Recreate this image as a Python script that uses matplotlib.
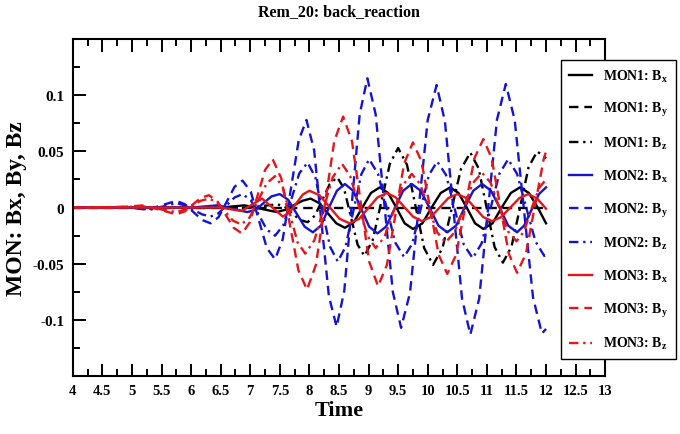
"""
Rem_20 back_reaction: magnetic field components at three monitors vs time.
Values read off the reference plot (extrema plus points between them).
"""
import matplotlib
matplotlib.use("Agg")
import matplotlib.pyplot as plt
from matplotlib.ticker import MultipleLocator

plt.rcParams["font.family"] = ["Liberation Serif", "DejaVu Serif"]
plt.rcParams["font.weight"] = "bold"
plt.rcParams["mathtext.fontset"] = "custom"
plt.rcParams["mathtext.rm"] = "Liberation Serif:bold"
plt.rcParams["mathtext.it"] = "Liberation Serif:bold"
plt.rcParams["mathtext.bf"] = "Liberation Serif:bold"

# MON1
mon1_bx_t = [4.0, 6.5, 6.9, 7.45, 7.59, 7.735, 7.88, 8.02, 8.165, 8.31, 8.455, 8.6,
             8.75, 8.895, 9.04, 9.19, 9.33, 9.47, 9.61, 9.75, 9.91, 10.065, 10.22,
             10.38, 10.52, 10.66, 10.8, 10.94, 11.095, 11.25, 11.405, 11.56, 11.71,
             11.86, 12.0]
mon1_bx = [0.0, 0.0, 0.002, -0.004, -0.002, 0.002, 0.006, 0.008, 0.004, -0.005, -0.014,
           -0.018, -0.013, 0.0, 0.013, 0.018, 0.013, 0.0, -0.014, -0.019, -0.014, 0.0,
           0.013, 0.018, 0.013, 0.0, -0.014, -0.019, -0.014, 0.0, 0.013, 0.018, 0.013,
           0.0, -0.014]

mon1_by_t = [4.0, 12.0]
mon1_by = [0.0, 0.0]

mon1_bz_t = [4.0, 7.0, 7.45, 7.58, 7.71, 7.84, 7.97, 8.095, 8.22, 8.345, 8.47, 8.585,
             8.7, 8.815, 8.93, 9.07, 9.215, 9.36, 9.5, 9.65, 9.795, 9.94, 10.09, 10.25,
             10.405, 10.56, 10.72, 10.86, 10.995, 11.13, 11.27, 11.415, 11.56, 11.705,
             11.85, 12.0]
mon1_bz = [0.0, 0.0, 0.003, 0.001, -0.005, -0.011, -0.013, -0.007, 0.007, 0.021, 0.027,
           0.017, -0.008, -0.033, -0.043, -0.029, 0.005, 0.039, 0.053, 0.038, 0.001,
           -0.036, -0.051, -0.036, -0.001, 0.034, 0.049, 0.035, 0.0, -0.035, -0.049,
           -0.035, 0.0, 0.036, 0.05, 0.044]

# MON2
mon2_bx_t = [4.0, 6.0, 6.45, 6.95, 7.09, 7.225, 7.36, 7.5, 7.64, 7.78, 7.92, 8.06,
             8.195, 8.33, 8.465, 8.6, 8.74, 8.875, 9.01, 9.15, 9.295, 9.44, 9.585, 9.73,
             9.88, 10.03, 10.18, 10.33, 10.48, 10.625, 10.77, 10.92, 11.07, 11.215,
             11.36, 11.51, 11.63, 11.755, 11.88, 12.0]
mon2_bx = [0.0, 0.0, 0.002, -0.004, -0.002, 0.004, 0.01, 0.012, 0.007, -0.005, -0.017,
           -0.022, -0.016, 0.0, 0.015, 0.021, 0.015, -0.001, -0.017, -0.023, -0.017,
           -0.001, 0.015, 0.021, 0.015, 0.0, -0.016, -0.022, -0.016, 0.0, 0.015, 0.021,
           0.015, 0.0, -0.016, -0.022, -0.016, -0.002, 0.012, 0.018]

mon2_by_t = [4.0, 5.0, 5.25, 5.5, 5.75, 5.895, 6.04, 6.185, 6.33, 6.465, 6.6, 6.735,
             6.87, 7.01, 7.145, 7.28, 7.42, 7.55, 7.685, 7.82, 7.95, 8.08, 8.205, 8.33,
             8.46, 8.59, 8.72, 8.85, 8.98, 9.12, 9.265, 9.41, 9.55, 9.7, 9.85, 10.0,
             10.15, 10.29, 10.435, 10.58, 10.72, 10.87, 11.02, 11.17, 11.32, 11.47,
             11.625, 11.78, 11.93, 12.0]
mon2_by = [0.0, 0.0, -0.002, 0.002, 0.006, 0.003, -0.004, -0.011, -0.014, -0.0085,
           0.005, 0.0185, 0.024, 0.014, -0.011, -0.036, -0.046, -0.028, 0.016, 0.06,
           0.078, 0.051, -0.014, -0.079, -0.106, -0.074, 0.005, 0.083, 0.115, 0.083,
           0.004, -0.075, -0.107, -0.076, 0.001, 0.078, 0.109, 0.077, -0.002, -0.081,
           -0.113, -0.081, -0.001, 0.078, 0.11, 0.078, -0.001, -0.08, -0.112, -0.108]

mon2_bz_t = [4.0, 5.0, 5.3, 5.525, 5.75, 5.895, 6.04, 6.185, 6.33, 6.465, 6.6, 6.735,
             6.87, 7.01, 7.145, 7.28, 7.42, 7.56, 7.695, 7.83, 7.97, 8.1, 8.225, 8.35,
             8.48, 8.61, 8.745, 8.88, 9.01, 9.16, 9.305, 9.45, 9.6, 9.74, 9.88, 10.02,
             10.16, 10.31, 10.46, 10.61, 10.76, 10.91, 11.06, 11.21, 11.36, 11.51,
             11.665, 11.82, 11.97, 12.0]
mon2_bz = [0.0, 0.0, -0.002, 0.001, 0.004, 0.002, -0.002, -0.006, -0.008, -0.005, 0.002,
           0.009, 0.012, 0.0066, -0.0065, -0.0196, -0.025, -0.0156, 0.0075, 0.0306,
           0.04, 0.027, -0.004, -0.035, -0.048, -0.035, -0.0025, 0.03, 0.043, 0.03,
           0.0, -0.031, -0.044, -0.032, -0.0015, 0.029, 0.041, 0.029, -0.002, -0.033,
           -0.045, -0.032, -0.001, 0.03, 0.043, 0.03, 0.0, -0.03, -0.043, -0.042]

# MON3
mon3_bx_t = [4.0, 6.5, 6.85, 7.2, 7.55, 7.66, 7.775, 7.89, 8.0, 8.17, 8.34, 8.51, 8.68,
             8.84, 8.995, 9.15, 9.31, 9.46, 9.605, 9.75, 9.9, 10.05, 10.2, 10.35, 10.5,
             10.65, 10.795, 10.94, 11.09, 11.24, 11.395, 11.55, 11.7, 11.85, 12.0]
mon3_bx = [0.0, 0.0, -0.003, 0.008, -0.008, -0.0046, 0.0035, 0.0117, 0.015, 0.011,
           0.0005, -0.01, -0.014, -0.01, -0.0005, 0.009, 0.013, 0.009, 0.0005, -0.008,
           -0.012, -0.0085, 0.0, 0.0085, 0.012, 0.0085, 0.0, -0.0085, -0.012, -0.0085,
           0.0, 0.0085, 0.012, 0.008, -0.001]

mon3_by_t = [4.0, 4.7, 5.2, 5.475, 5.75, 5.89, 6.025, 6.16, 6.3, 6.44, 6.58, 6.72, 6.86,
             6.99, 7.12, 7.25, 7.38, 7.525, 7.67, 7.815, 7.96, 8.11, 8.265, 8.42, 8.57,
             8.72, 8.865, 9.01, 9.16, 9.31, 9.455, 9.6, 9.75, 9.895, 10.04, 10.185,
             10.33, 10.48, 10.635, 10.79, 10.94, 11.08, 11.225, 11.37, 11.51, 11.66,
             11.81, 11.96, 12.0]
mon3_by = [0.0, 0.0, 0.002, -0.002, -0.006, -0.0035, 0.0025, 0.0085, 0.011, 0.006,
           -0.006, -0.018, -0.023, -0.0134, 0.01, 0.0334, 0.043, 0.026, -0.015, -0.056,
           -0.073, -0.051, 0.004, 0.059, 0.081, 0.059, 0.0055, -0.048, -0.07, -0.051,
           -0.006, 0.039, 0.058, 0.041, -0.0005, -0.042, -0.059, -0.042, 0.001, 0.044,
           0.061, 0.044, 0.0015, -0.041, -0.058, -0.041, 0.001, 0.043, 0.05]

mon3_bz_t = [4.0, 5.2, 5.475, 5.75, 5.89, 6.025, 6.16, 6.3, 6.44, 6.575, 6.71, 6.85,
             6.99, 7.135, 7.28, 7.42, 7.55, 7.675, 7.8, 7.93, 8.085, 8.24, 8.395, 8.55,
             8.69, 8.835, 8.98, 9.12, 9.27, 9.425, 9.58, 9.73, 9.87, 10.015, 10.16,
             10.3, 10.455, 10.61, 10.765, 10.92, 11.065, 11.21, 11.355, 11.5, 11.63,
             11.76, 11.89, 12.0]
mon3_bz = [0.0, 0.001, -0.0015, -0.004, -0.002, 0.002, 0.006, 0.008, 0.0047, -0.0035,
           -0.0117, -0.015, -0.0088, 0.0065, 0.0217, 0.028, 0.018, -0.0065, -0.031,
           -0.041, -0.029, -0.001, 0.027, 0.039, 0.028, 0.0015, -0.025, -0.036, -0.026,
           -0.003, 0.02, 0.03, 0.021, 0.0, -0.022, -0.031, -0.022, 0.0, 0.022, 0.031,
           0.022, 0.0, -0.021, -0.03, -0.021, 0.0, 0.018, 0.025]

BLACK = "#000000"
BLUE = "#1414d2"
RED = "#e3161b"
DASH = (0, (4, 2.5))
DASHDOT = (0, (4, 2, 1, 2))

series = [
    (mon1_bx_t, mon1_bx, BLACK, "-", r"MON1: B$_{x}$"),
    (mon1_by_t, mon1_by, BLACK, DASH, r"MON1: B$_{y}$"),
    (mon1_bz_t, mon1_bz, BLACK, DASHDOT, r"MON1: B$_{z}$"),
    (mon2_bx_t, mon2_bx, BLUE, "-", r"MON2: B$_{x}$"),
    (mon2_by_t, mon2_by, BLUE, DASH, r"MON2: B$_{y}$"),
    (mon2_bz_t, mon2_bz, BLUE, DASHDOT, r"MON2: B$_{z}$"),
    (mon3_bx_t, mon3_bx, RED, "-", r"MON3: B$_{x}$"),
    (mon3_by_t, mon3_by, RED, DASH, r"MON3: B$_{y}$"),
    (mon3_bz_t, mon3_bz, RED, DASHDOT, r"MON3: B$_{z}$"),
]

fig = plt.figure(figsize=(6.8, 4.35), dpi=100)
ax = fig.add_axes([0.107, 0.133, 0.783, 0.775])

for t, v, color, ls, label in series:
    ax.plot(t, v, color=color, linestyle=ls, linewidth=1.7, label=label)

ax.set_xlim(4, 13)
ax.set_ylim(-0.15, 0.15)
ax.xaxis.set_minor_locator(MultipleLocator(0.25))
ax.yaxis.set_minor_locator(MultipleLocator(0.025))
ax.set_xticks([4, 4.5, 5, 5.5, 6, 6.5, 7, 7.5, 8, 8.5, 9, 9.5, 10, 10.5, 11, 11.5, 12, 12.5, 13])
ax.set_xticklabels(["4", "4.5", "5", "5.5", "6", "6.5", "7", "7.5", "8", "8.5", "9", "9.5",
                    "10", "10.5", "11", "11.5", "12", "12.5", "13"])
ax.set_yticks([-0.1, -0.05, 0, 0.05, 0.1])
ax.set_yticklabels(["-0.1", "-0.05", "0", "0.05", "0.1"])

ax.tick_params(which="both", direction="in", top=True, right=True, width=1.4)
ax.tick_params(which="major", length=9, pad=6)
ax.tick_params(which="minor", length=5)
ax.tick_params(axis="x", labelsize=10.5)
ax.tick_params(axis="y", labelsize=11)
for s in ax.spines.values():
    s.set_linewidth(1.5)

ax.set_xlabel("Time", fontsize=16, fontweight="bold", labelpad=2)
ax.set_ylabel("MON: Bx, By, Bz", fontsize=17, fontweight="bold", labelpad=4)
ax.set_title("Rem_20: back_reaction", fontsize=11.5, fontweight="bold", pad=17)

leg = ax.legend(loc="upper left", bbox_to_anchor=(0.825, 0.86),
                bbox_transform=fig.transFigure, fontsize=10, frameon=True,
                fancybox=False, edgecolor="black", framealpha=1,
                handlelength=1.7, handletextpad=0.8, labelspacing=1.2,
                borderpad=0.55, borderaxespad=0)
leg.get_frame().set_linewidth(1.0)

fig.savefig("out.png", dpi=100)
